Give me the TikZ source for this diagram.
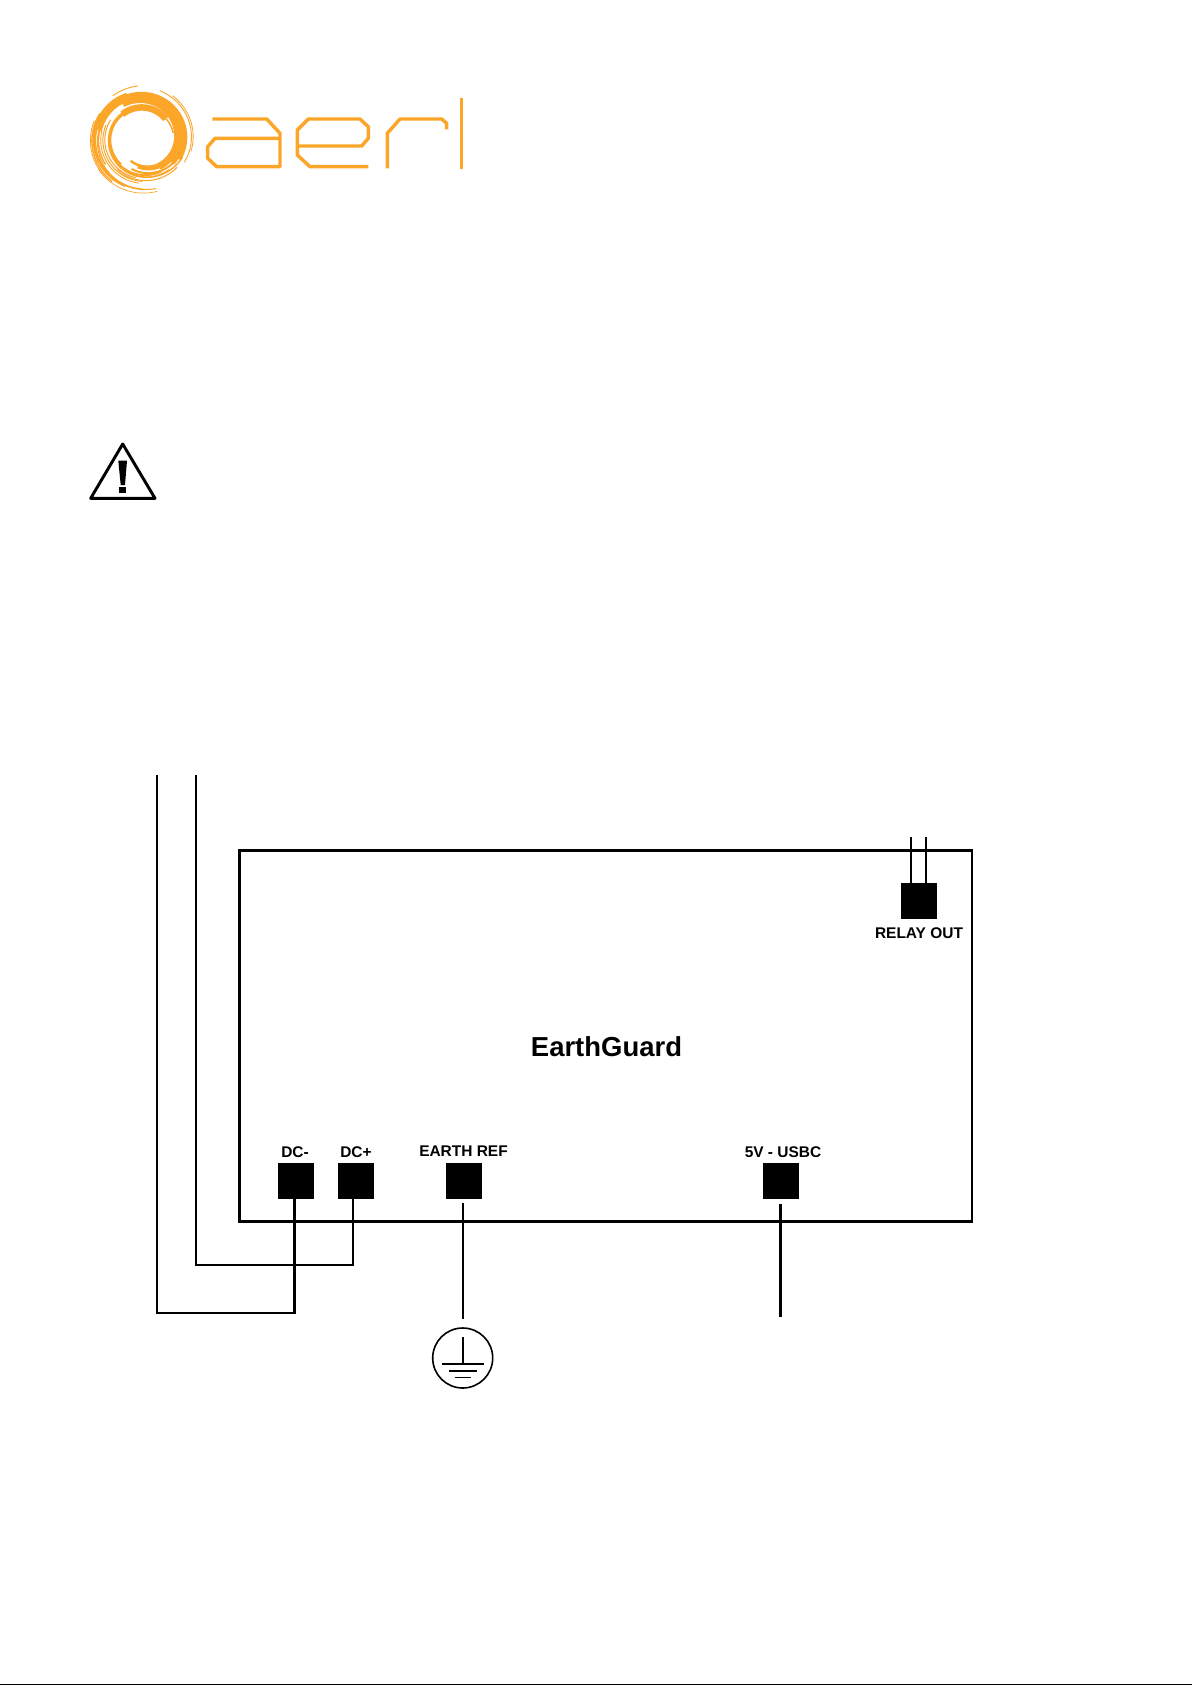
\documentclass[tikz,border=0pt]{standalone}
\usepackage{fontspec}
\setmainfont{Liberation Sans}
\usepackage{tikz}

\definecolor{aerlink}{HTML}{FBA629}
\tikzset{
  wire/.style={line width=1.9pt,black},
  thinwire/.style={line width=1.6pt,black},
  boxline/.style={line width=2pt,black},
  pad/.style={rectangle,fill=black,inner sep=0pt,minimum size=27pt},
  padlabel/.style={inner sep=0pt,font=\fontsize{11.6}{14}\selectfont\bfseries},
  letter/.style={line width=2.6pt,aerlink,line join=round}
}

\begin{document}
\begin{tikzpicture}[x=0.75pt,y=-0.75pt]
    \useasboundingbox (0,0) rectangle (1192,1685);
    \fill[white] (0,0) rectangle (1192,1685);
    % logo swirl
    \begin{scope}[shift={(142.7,138.3)}]
      \foreach \from/\to/\rfrom/\rto/\thick in {
          60/-120/32.5/40/7, 40/-170/38/44.5/6, 30/-140/42/45.5/4,
          118/30/25.5/33/2.4, 100/10/29/38/3, 110/20/32.5/41/2, 120/25/36/44/1.4, 130/40/40/45/1,
          -40/-130/30/31.5/6.5, -10/-60/31/30/1.5, -110/-230/31/34.5/3.4, -150/-300/32/38/2, -180/-310/34/41/1.2,
          -110/-250/47/50.5/2.6, -150/-270/46/51/1.5, -170/-285/44.5/52/1,
          -150/-260/37/40/1, -160/-270/39/43/1, -170/-265/41.5/45/.9, -120/-215/42/45.5/1.5,
          -70/30/50.5/48/.9, -55/15/52/50/.8, -215/-285/54/55/.7, -125/-95/52/52.5/.9,
          -150/-235/49.5/53/1.4, -160/-225/51.5/54/.8}
        \draw[aerlink,line width=\thick*0.75pt] plot[domain=\from:\to,samples=30] (\x:{\rfrom+(\rto-\rfrom)*(\x-\from)/(\to-\from)});
    \end{scope}
    % logo letters
    \draw[letter] (212.3,119) -- (266.7,119) -- (280,133.3) -- (280,166.7) -- (216.7,166.7) -- (207.7,158.3) -- (207.7,146.7) -- (215,138.3) -- (280,138.3);
    \draw[letter] (368.3,166.7) -- (310,166.7) -- (297.3,155) -- (297.3,130) -- (308.3,119) -- (360,119) -- (368.3,126.7) -- (368.3,138.3) -- (361.7,146) -- (297.3,146);
    \draw[letter] (387.3,168.3) -- (387.3,133.3) -- (400,119) -- (441.7,119) -- (446.7,123.3) -- (446.7,129.3);
    \draw[letter] (461.7,97.7) -- (461.7,169);
    % warning sign
    \draw[line width=2.2pt,black,line join=round] (122.7,444) -- (155,498.3) -- (90.7,498.3) -- cycle;
    \fill[black] (118.3,460.7) -- (127,460.7) -- (125,485) -- (120.7,485) -- cycle;
    \fill[black] (119.4,486.7) rectangle (126,493.3);

    \draw[boxline] (239.5,850.5) rectangle (972,1221.7);
    \node [font=\fontsize{20.6}{24}\selectfont\bfseries,inner sep=0pt] (title) at (606.5,1047) {EarthGuard};

    \node [pad] (dcminus) at (296,1181) {};
    \node [pad] (dcplus) at (355.5,1181) {};
    \node [pad] (earthref) at (463.5,1181) {};
    \node [pad] (usbc) at (780.7,1181) {};
    \node [pad] (relay) at (918.7,901) {};

    \node [padlabel] (dcminuslabel) at (295,1152) {DC-};
    \node [padlabel] (dcpluslabel) at (356,1152) {DC+};
    \node [padlabel] (earthlabel) at (463.5,1151) {EARTH REF};
    \node [padlabel] (usbclabel) at (783,1152) {5V - USBC};
    \node [padlabel] (relaylabel) at (919,933) {RELAY OUT};

    \coordinate (dcminusend) at (157,775);
    \coordinate (dcplusend) at (196,775);
    \coordinate (dcminusfoot) at (294.3,1313);
    \coordinate (dcplusfoot) at (353,1265);
    \draw[wire] (dcminusend) |- (dcminusfoot) -- (dcminusfoot |- dcminus.south);
    \draw[wire] (dcplusend) |- (dcplusfoot) -- (dcplusfoot |- dcplus.south);

    \coordinate (earthtop) at (463,1203);
    \coordinate (earthend) at (463,1319);
    \draw[wire] (earthtop) -- (earthend);
    \coordinate (usbctop) at (780.3,1204);
    \coordinate (usbcend) at (780.3,1317);
    \draw[wire] (usbctop) -- (usbcend);

    \coordinate (relayendone) at (911.3,837);
    \coordinate (relayendtwo) at (925.7,837);
    \draw[thinwire] (relayendone) -- (relayendone |- relay.north);
    \draw[thinwire] (relayendtwo) -- (relayendtwo |- relay.north);

    % earth symbol
    \node [circle,draw,line width=1.2pt,inner sep=0pt,minimum size=45pt] (earthsym) at (462.7,1358) {};
    \draw[line width=1.2pt] (462.7,1337) -- (462.7,1364);
    \draw[line width=1.2pt] (441.8,1364) -- (483.5,1364);
    \draw[line width=1.2pt] (448.7,1371) -- (476.7,1371);
    \draw[line width=1.2pt] (454.7,1377.5) -- (470.7,1377.5);

    \draw[line width=.75pt,black] (0,1684.5) -- (1192,1684.5);
\end{tikzpicture}
\end{document}
